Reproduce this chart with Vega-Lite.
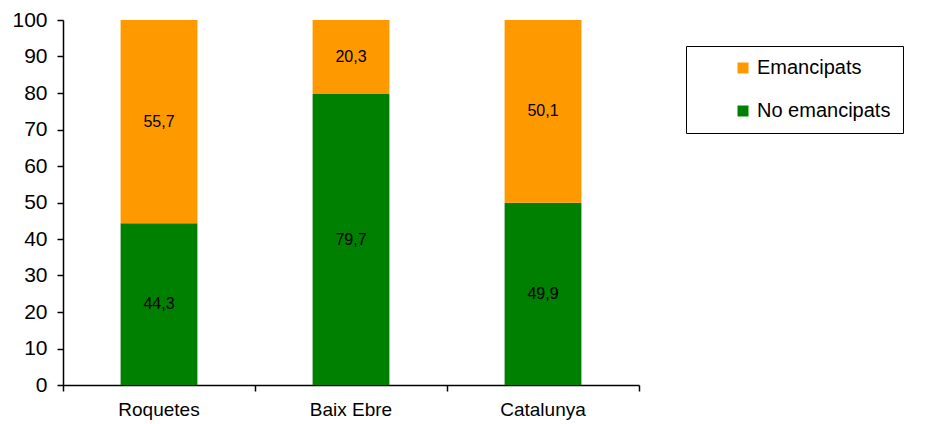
{
  "$schema": "https://vega.github.io/schema/vega-lite/v6.json",
  "width": 576,
  "height": 365,
  "autosize": "none",
  "padding": {"left": 63, "top": 20, "right": 297, "bottom": 39},
  "background": "white",
  "data": {
    "values": [
      {"zona": "Roquetes", "grup": "No emancipats", "valor": 44.3, "ordre": 1},
      {"zona": "Roquetes", "grup": "Emancipats", "valor": 55.7, "ordre": 2},
      {"zona": "Baix Ebre", "grup": "No emancipats", "valor": 79.7, "ordre": 1},
      {"zona": "Baix Ebre", "grup": "Emancipats", "valor": 20.3, "ordre": 2},
      {"zona": "Catalunya", "grup": "No emancipats", "valor": 49.9, "ordre": 1},
      {"zona": "Catalunya", "grup": "Emancipats", "valor": 50.1, "ordre": 2}
    ]
  },
  "transform": [
    {"stack": "valor", "groupby": ["zona"], "sort": [{"field": "ordre", "order": "ascending"}], "as": ["v0", "v1"]},
    {"calculate": "(datum.v0 + datum.v1) / 2", "as": "mid"}
  ],
  "encoding": {
    "x": {
      "field": "zona",
      "type": "nominal",
      "sort": ["Roquetes", "Baix Ebre", "Catalunya"],
      "scale": {"paddingInner": 0, "paddingOuter": 0},
      "axis": {
        "title": null,
        "labelAngle": 0,
        "labelFont": "Liberation Sans",
        "labelFontSize": 19,
        "labelColor": "black",
        "labelPadding": 9,
        "domainColor": "black",
        "domainWidth": 1.5,
        "tickColor": "black",
        "tickWidth": 1.5,
        "tickSize": 6,
        "bandPosition": 1,
        "tickExtra": true,
        "grid": false
      }
    }
  },
  "layer": [
    {
      "mark": {"type": "bar", "width": {"band": 0.4}},
      "encoding": {
        "y": {
          "field": "v0",
          "type": "quantitative",
          "scale": {"domain": [0, 100], "nice": false},
          "axis": {
            "title": null,
            "values": [0, 10, 20, 30, 40, 50, 60, 70, 80, 90, 100],
            "labelOverlap": false,
            "labelFont": "Liberation Sans",
            "labelFontSize": 21,
            "labelColor": "black",
            "labelPadding": 10,
            "domainColor": "black",
            "domainWidth": 1.5,
            "tickColor": "black",
            "tickWidth": 1.5,
            "tickSize": 6,
            "grid": false
          }
        },
        "y2": {"field": "v1"},
        "color": {
          "field": "grup",
          "type": "nominal",
          "scale": {"domain": ["Emancipats", "No emancipats"], "range": ["#FF9900", "#008000"]},
          "legend": {
            "title": null,
            "orient": "none",
            "legendX": 623,
            "legendY": 26,
            "fillColor": "white",
            "strokeColor": "black",
            "padding": 12,
            "symbolType": "square",
            "symbolSize": 121,
            "symbolStrokeWidth": 0,
            "symbolOffset": 35,
            "labelFont": "Liberation Sans",
            "labelFontSize": 20,
            "labelColor": "black",
            "labelOffset": 4,
            "labelLimit": 400,
            "rowPadding": 23
          }
        }
      }
    },
    {
      "mark": {"type": "text", "font": "Liberation Sans", "fontSize": 16, "color": "black", "baseline": "middle"},
      "encoding": {
        "y": {
          "field": "mid",
          "type": "quantitative",
          "axis": {
            "title": null,
            "values": [0, 10, 20, 30, 40, 50, 60, 70, 80, 90, 100],
            "labelOverlap": false,
            "labelFont": "Liberation Sans",
            "labelFontSize": 21,
            "labelColor": "black",
            "labelPadding": 10,
            "domainColor": "black",
            "domainWidth": 1.5,
            "tickColor": "black",
            "tickWidth": 1.5,
            "tickSize": 6,
            "grid": false
          }
        },
        "text": {"field": "valor", "type": "quantitative", "format": ".1f"}
      }
    }
  ],
  "config": {
    "view": {"stroke": null},
    "locale": {"number": {"decimal": ",", "thousands": ".", "grouping": [3], "currency": ["", " €"]}}
  }
}
